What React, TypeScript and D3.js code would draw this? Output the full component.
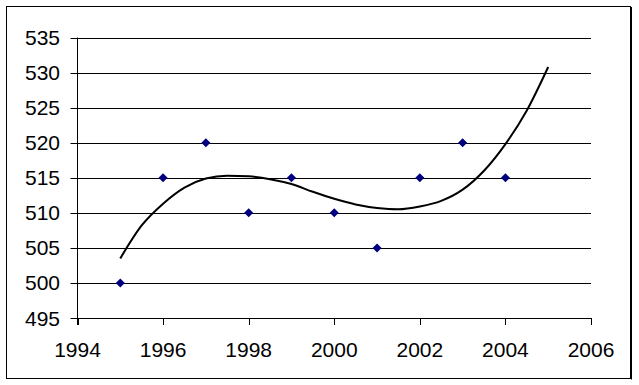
import React from 'react';
import * as d3 from 'd3';

// observed points
const years = [1995, 1996, 1997, 1998, 1999, 2000, 2001, 2002, 2003, 2004];
const values = [500, 515, 520, 510, 515, 510, 505, 515, 520, 515];

// polynomial trendline
const trendYears = [1995, 1995.5, 1996, 1996.5, 1997, 1997.5, 1998, 1998.5, 1999, 1999.5, 2000, 2000.5, 2001, 2001.5, 2002, 2002.5, 2003, 2003.5, 2004, 2004.5, 2005];
const trendValues = [503.5, 508.2, 511.3, 513.6, 514.9, 515.3, 515.2, 514.8, 514.1, 513.0, 512.0, 511.2, 510.7, 510.5, 510.9, 511.7, 513.3, 516.0, 519.8, 524.6, 530.8];

const xTicks = [1994, 1996, 1998, 2000, 2002, 2004, 2006];
const yTicks = [495, 500, 505, 510, 515, 520, 525, 530, 535];

const width = 639;
const height = 385;
const margin = { top: 37.5, right: 48, bottom: 67, left: 77.5 };

const App = () => {
  const x = d3.scaleLinear()
    .domain([1994, 2006])
    .range([margin.left, width - margin.right]);

  const y = d3.scaleLinear()
    .domain([495, 535])
    .range([height - margin.bottom, margin.top]);

  const trend = trendYears.map((t, i) => [t, trendValues[i]] as [number, number]);
  const line = d3.line<[number, number]>()
    .x(d => x(d[0]))
    .y(d => y(d[1]))
    .curve(d3.curveMonotoneX);

  const font = "'Liberation Sans', Arial, sans-serif";
  const x0 = x(1994);
  const x1 = x(2006);
  const yBase = y(495);

  return (
    <svg width={width} height={height} style={{ position: 'absolute', left: 0, top: 0, background: 'white' }}>
      {/* chart frame with shadow */}
      <rect x={6.5} y={6.5} width={624} height={372} fill="white" stroke="black" strokeWidth={1} />
      <line x1={631.5} x2={631.5} y1={7} y2={379.5} stroke="black" strokeWidth={1} />

      {/* gridlines + y ticks */}
      {yTicks.map(v => (
        <g key={v}>
          <line x1={x0 - 7} x2={x1} y1={Math.round(y(v)) + 0.5} y2={Math.round(y(v)) + 0.5} stroke="black" strokeWidth={1} />
          <text x={60} y={y(v) + 7.5} textAnchor="end" fontFamily={font} fontSize={21} fill="black">{v}</text>
        </g>
      ))}

      {/* y axis */}
      <line x1={x0} x2={x0} y1={y(535)} y2={yBase + 7} stroke="black" strokeWidth={1} />

      {/* x axis ticks */}
      {xTicks.map(t => (
        <g key={t}>
          <line x1={Math.round(x(t)) + 0.5} x2={Math.round(x(t)) + 0.5} y1={yBase} y2={yBase + 7} stroke="black" strokeWidth={1} />
          <text x={x(t)} y={356.5} textAnchor="middle" fontFamily={font} fontSize={21} fill="black">{t}</text>
        </g>
      ))}

      {/* data points */}
      {years.map((t, i) => {
        const cx = x(t);
        const cy = y(values[i]);
        const s = 4.5;
        return (
          <path key={t} d={`M${cx},${cy - s}L${cx + s},${cy}L${cx},${cy + s}L${cx - s},${cy}Z`} fill="#000080" />
        );
      })}

      {/* trendline */}
      <path d={line(trend) || ''} fill="none" stroke="black" strokeWidth={2} />
    </svg>
  );
};

export default App;
